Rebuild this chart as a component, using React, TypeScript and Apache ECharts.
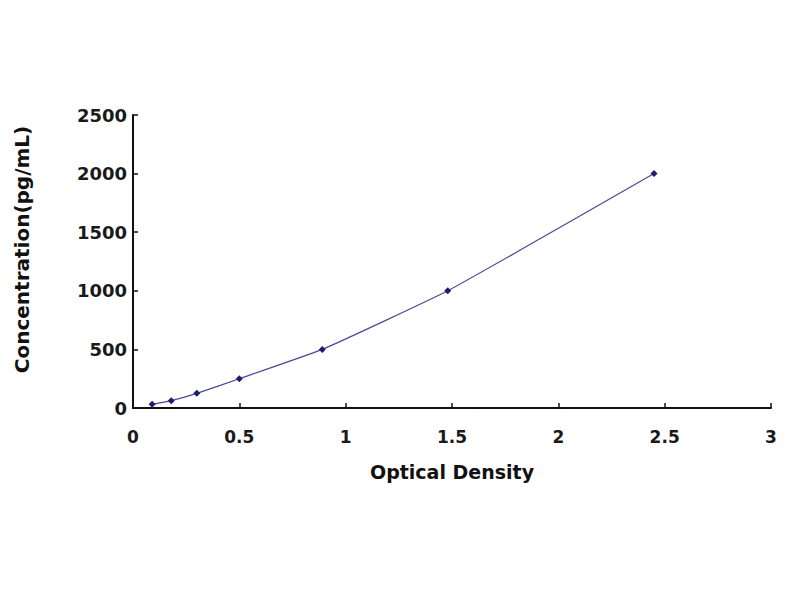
import { useRef, useEffect } from "react";
import * as echarts from "echarts";

const opticalDensity = [0.09, 0.18, 0.3, 0.5, 0.89, 1.48, 2.45];
const concentration = [31.25, 62.5, 125, 250, 500, 1000, 2000];

const X_MIN = 0, X_MAX = 3, X_STEP = 0.5;
const Y_MIN = 0, Y_MAX = 2500, Y_STEP = 500;

const FONT = "DejaVu Sans, Verdana, sans-serif";

export default function App() {
  const ref = useRef<HTMLDivElement>(null);

  useEffect(() => {
    if (!ref.current) return;
    const chart = echarts.init(ref.current, null, { renderer: "svg" });
    chart.setOption({
      animation: false,
      backgroundColor: "#ffffff",
      grid: { left: 133, right: 29, top: 115, bottom: 192 },
      xAxis: {
        type: "value",
        min: X_MIN, max: X_MAX, interval: X_STEP,
        name: "Optical Density",
        nameLocation: "middle",
        nameGap: 54,
        nameTextStyle: { fontFamily: FONT, fontWeight: "bold", fontSize: 19, color: "#111" },
        axisLine: { show: true, lineStyle: { color: "#111", width: 2 } },
        axisTick: { show: true, inside: true, length: 5, lineStyle: { color: "#111", width: 1.5 } },
        axisLabel: {
          fontFamily: FONT, fontWeight: "bold", fontSize: 17, color: "#1a1a1a", margin: 20,
          formatter: (v: number) => String(v),
        },
        splitLine: { show: false },
      },
      yAxis: {
        type: "value",
        min: Y_MIN, max: Y_MAX, interval: Y_STEP,
        name: "Concentration(pg/mL)",
        nameLocation: "middle",
        nameGap: 101,
        nameRotate: 90,
        nameTextStyle: {
          fontFamily: FONT, fontWeight: "bold", fontSize: 20, color: "#111",
          padding: [0, 0, 0, 24],
        },
        axisLine: { show: true, lineStyle: { color: "#111", width: 2 } },
        axisTick: { show: true, inside: true, length: 5, lineStyle: { color: "#111", width: 1.5 } },
        axisLabel: {
          fontFamily: FONT, fontWeight: "bold", fontSize: 18, color: "#1a1a1a", margin: 6,
          formatter: (v: number) => String(v),
        },
        splitLine: { show: false },
      },
      series: [
        {
          type: "line",
          data: opticalDensity.map((x, i) => [x, concentration[i]]),
          smooth: 0.12,
          symbol: "diamond",
          symbolSize: 7,
          itemStyle: { color: "#1c1c70" },
          lineStyle: { color: "#4848a8", width: 1.2 },
        },
      ],
    });
    return () => chart.dispose();
  }, []);

  return (
    <div
      ref={ref}
      style={{ position: "absolute", left: 0, top: 0, width: 800, height: 600 }}
    />
  );
}
